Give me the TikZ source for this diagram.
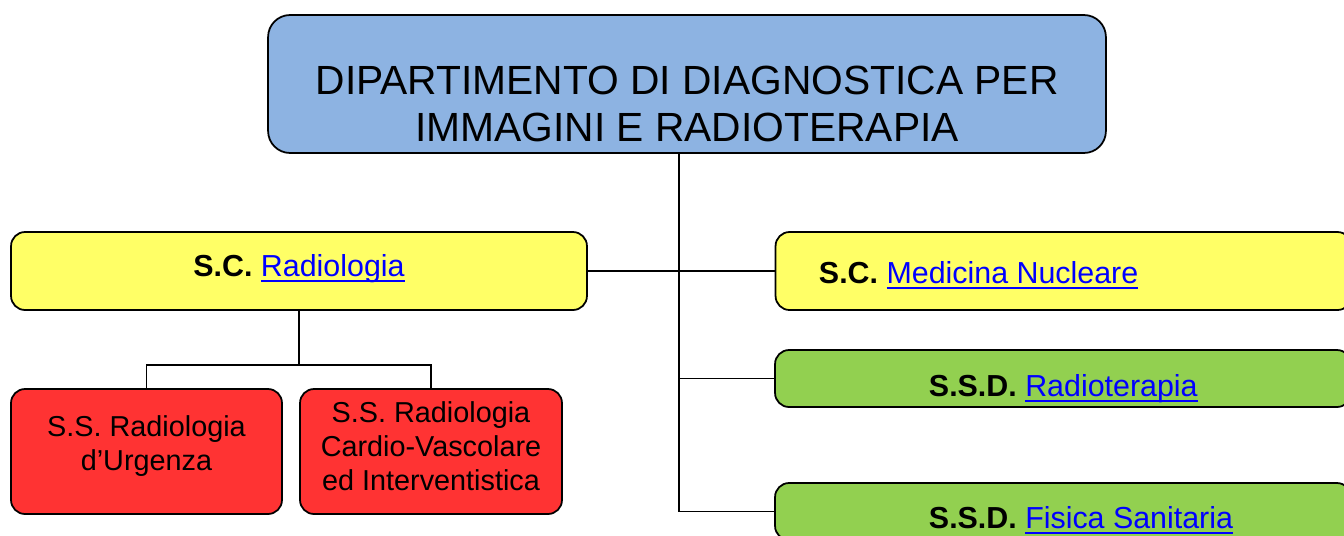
\documentclass[tikz,border=0pt]{standalone}
\usepackage{fontspec}
\setmainfont{Liberation Sans}
\definecolor{deptblue}{HTML}{8DB3E2}
\definecolor{scyellow}{HTML}{FFFF66}
\definecolor{ssdgreen}{HTML}{92D050}
\definecolor{ssred}{HTML}{FF3333}
\definecolor{linkblue}{HTML}{0000FF}
\newcommand{\lnk}[1]{{\color{linkblue}\setbox0\hbox{#1}%
    \rlap{\vrule height -2.3pt depth 3.4pt width \wd0}\box0}}
\begin{document}
\begin{tikzpicture}[x=0.02cm,y=-0.02cm,line width=1.1pt,
    box/.style = {draw=black, line width=1pt, rounded corners=0.28cm},
    deptbox/.style = {box, fill=deptblue, rounded corners=0.44cm,
        minimum width=16.76cm, minimum height=2.76cm},
    scbox/.style = {box, fill=scyellow, minimum width=11.52cm, minimum height=1.56cm},
    ssdbox/.style = {box, fill=ssdgreen, minimum width=11.52cm, minimum height=1.14cm},
    ssbox/.style = {box, fill=ssred, minimum height=2.5cm},
    boxtext/.style = {font=\fontsize{17.3}{21}\selectfont, inner sep=0pt},
    sstext/.style = {align=center, inner sep=0pt, font=\fontsize{16.4}{19.3}\selectfont}]
    \clip (0,0) rectangle (1344,535);
    %Dipartimento
    \node[deptbox] (dip) at (687,84) {};
    \node[align=center, inner sep=0pt, font=\fontsize{23.2}{26.6}\selectfont]
        (diptxt) at (687,104) {DIPARTIMENTO DI DIAGNOSTICA PER\\IMMAGINI E RADIOTERAPIA};
    %Strutture complesse
    \node[scbox] (rad) at (299,271) {};
    \node[boxtext, anchor=base] (radtxt) at (299,276) {\textbf{S.C.} \lnk{Radiologia}};
    \node[scbox] (med) at (1063.5,271) {};
    \node[boxtext, anchor=base west] (medtxt) at (818,283) {\textbf{S.C.} \lnk{Medicina Nucleare}};
    %Strutture semplici dipartimentali
    \node[ssdbox] (rt) at (1063,378.5) {};
    \node[boxtext, anchor=base west] (rttxt) at (928,396) {\textbf{S.S.D.} \lnk{Radioterapia}};
    \node[ssdbox] (fis) at (1063,511.5) {};
    \node[boxtext, anchor=base west] (fistxt) at (928,528) {\textbf{S.S.D.} \lnk{Fisica Sanitaria}};
    %Strutture semplici
    \node[ssbox, minimum width=5.42cm] (urg) at (146.5,451.5) {};
    \node[sstext] (urgtxt) at (146.5,446) {S.S. Radiologia\\d’Urgenza};
    \node[ssbox, minimum width=5.24cm] (cv) at (431,451.5) {};
    \node[sstext] (cvtxt) at (431,446) {S.S. Radiologia\\Cardio-Vascolare\\ed Interventistica};
    %Connettori
    \coordinate (spine) at (679,0);
    \coordinate (fork) at (299,365);
    \draw (dip.south -| spine) -- (spine |- fis.west) -- (fis.west);
    \draw (spine |- rt.west) -- (rt.west);
    \draw (rad.east) -- (med.west);
    \draw (rad.south) -- (fork);
    \draw (urg.north) |- (fork) -| (cv.north);
\end{tikzpicture}
\end{document}
